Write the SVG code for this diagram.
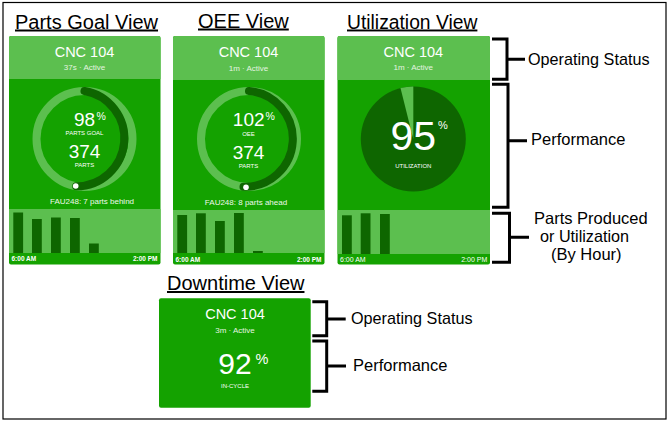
<svg xmlns="http://www.w3.org/2000/svg" width="670" height="423" viewBox="0 0 670 423">
<style>
text{font-family:"Liberation Sans",Arial,sans-serif;fill:#fff}
.t{font-size:20px;fill:#000;text-decoration:underline}
.l{font-size:16.2px;fill:#000}
.n{font-size:14.5px;text-anchor:middle}
.s{font-size:8px;text-anchor:middle;fill:#e4f4e0}
.c{font-size:6px;text-anchor:middle}
.v{font-size:19px;text-anchor:middle}
.p{font-size:10.5px}
.f{font-size:8px;text-anchor:middle;fill:#eef8ea}
.a{font-size:6.5px;font-weight:bold}
.g{fill:#14a200}.h{fill:#5cbf4f}.d{fill:#0e6600}
.b{fill:none;stroke:#000;stroke-width:3}
.rl{fill:none;stroke:#5cbf4f;stroke-width:8}
.rd{fill:none;stroke:#0e6600;stroke-width:8;stroke-linecap:round}
</style>
<rect x="3" y="2.500" width="663" height="416.500" fill="#fff" stroke="#000" stroke-width="1.200"/>
<g id="parts-goal-view">
<text class="t" x="15" y="28.500">Parts Goal View</text>
<rect class="g" x="9" y="36" width="151.500" height="228.500" rx="2"/>
<path class="h" d="M9 79V38a2 2 0 0 1 2-2H158.500a2 2 0 0 1 2 2V79Z"/>
<rect class="h" x="9" y="209" width="151.500" height="44"/>
<circle class="rl" cx="84.500" cy="139" r="48"/>
<path class="rd" d="M84.500 91A48 48 0 0 1 76.200 186.300"/>
<circle cx="75.700" cy="186" r="2.800" fill="#fff"/>
<text class="n" x="84.500" y="57">CNC 104</text>
<text class="s" x="84.500" y="70">37s · Active</text>
<text class="v" x="84.500" y="125.500">98</text><text class="p" x="96.500" y="120">%</text>
<text class="c" x="84.500" y="135">PARTS GOAL</text>
<text class="v" x="84.500" y="158">374</text>
<text class="c" x="84.500" y="167">PARTS</text>
<text class="f" x="92" y="204">FAU248: 7 parts behind</text>
<g class="d"><rect x="13.300" y="212.500" width="9.800" height="40.500"/><rect x="32" y="219" width="9.800" height="34"/><rect x="51" y="217.500" width="9.800" height="35.500"/><rect x="70" y="218" width="9.800" height="35"/><rect x="89" y="243.500" width="9.800" height="9.500"/></g>
<text class="a" x="11.500" y="261">6:00 AM</text><text class="a" x="157.500" y="261" text-anchor="end">2:00 PM</text>
</g>
<g id="oee-view">
<text class="t" x="198" y="27.500">OEE View</text>
<rect class="g" x="173" y="36" width="151.500" height="228.500" rx="2"/>
<path class="h" d="M173 80V38a2 2 0 0 1 2-2H322.500a2 2 0 0 1 2 2V80Z"/>
<rect class="h" x="173" y="210" width="151.500" height="43"/>
<circle class="rl" cx="249" cy="139" r="48"/>
<path class="rd" d="M249 91A48 48 0 0 1 243.500 186.800"/>
<circle cx="246" cy="187.300" r="2.800" fill="#fff"/>
<text class="n" x="248.500" y="57">CNC 104</text>
<text class="s" x="248.500" y="70.500">1m · Active</text>
<text class="v" x="248.700" y="126">102</text><text class="p" x="265.500" y="120">%</text>
<text class="c" x="248.500" y="135.500">OEE</text>
<text class="v" x="248.500" y="158.500">374</text>
<text class="c" x="248.500" y="167.500">PARTS</text>
<text class="f" x="246" y="205">FAU248: 8 parts ahead</text>
<g class="d"><rect x="177.300" y="215" width="9.800" height="38"/><rect x="196" y="213.300" width="9.800" height="39.700"/><rect x="215" y="221" width="9.800" height="32"/><rect x="234" y="213" width="9.800" height="40"/><rect x="253" y="251" width="9.800" height="2"/></g>
<text class="a" x="175.500" y="261.500">6:00 AM</text><text class="a" x="321.500" y="261.500" text-anchor="end">2:00 PM</text>
</g>
<g id="utilization-view">
<text class="t" x="347" y="28.500" style="font-size:19.300px">Utilization View</text>
<rect class="g" x="337.500" y="36" width="152.500" height="228.500" rx="2"/>
<path class="h" d="M337.500 80V38a2 2 0 0 1 2-2H488a2 2 0 0 1 2 2V80Z"/>
<rect class="h" x="337.500" y="210" width="152.500" height="44"/>
<circle class="d" cx="413.300" cy="139" r="52.500"/>
<path class="h" d="M413.300 139V86.500A52.500 52.500 0 0 0 400.500 88Z"/>
<text x="413.300" y="150" font-size="41" text-anchor="middle">95</text>
<text x="438" y="128.500" font-size="11">%</text>
<text class="c" x="413.300" y="167.500">UTILIZATION</text>
<text class="n" x="413.300" y="57">CNC 104</text>
<text class="s" x="413.300" y="70">1m · Active</text>
<g class="d"><rect x="342" y="215.300" width="9.800" height="38.700"/><rect x="360.700" y="213.300" width="9.800" height="40.700"/><rect x="380" y="214" width="9.800" height="40"/></g>
<text x="340" y="261.500" font-size="7">6:00 AM</text><text x="487.300" y="261.500" font-size="7" text-anchor="end">2:00 PM</text>
</g>
<g id="downtime-view">
<text class="t" x="167" y="290">Downtime View</text>
<rect class="g" x="159" y="298.300" width="151.700" height="109.400" rx="2"/>
<text class="n" x="235" y="319">CNC 104</text>
<text class="s" x="235" y="333.300">3m · Active</text>
<text x="235" y="373.500" font-size="30" text-anchor="middle">92</text>
<text x="255.500" y="363.500" font-size="14.500">%</text>
<text class="c" x="235" y="387.700">IN-CYCLE</text>
</g>
<g id="connectors">
<path class="b" d="M492 39H507V79.300H492M507 59.300H525"/>
<path class="b" d="M492 84.300H508V207.300H492M508 140.700H527"/>
<path class="b" d="M492 213.300H509.500V262.300H492M509.500 237.300H529"/>
<path class="b" d="M312.300 301.700H326.700V335.700H312.300M326.700 319H345.700"/>
<path class="b" d="M312.300 341H326.700V391.300H312.300M326.700 366H346"/>
</g>
<g id="labels">
<text class="l" x="528" y="64.500">Operating Status</text>
<text class="l" x="531" y="145" style="font-size:16.500px">Performance</text>
<text class="l" x="534" y="224" style="font-size:16.500px">Parts Produced</text>
<text class="l" x="540" y="241.500">or Utilization</text>
<text class="l" x="551" y="260" style="font-size:16.500px">(By Hour)</text>
<text class="l" x="351" y="324">Operating Status</text>
<text class="l" x="353" y="371" style="font-size:16.500px">Performance</text>
</g>
</svg>
